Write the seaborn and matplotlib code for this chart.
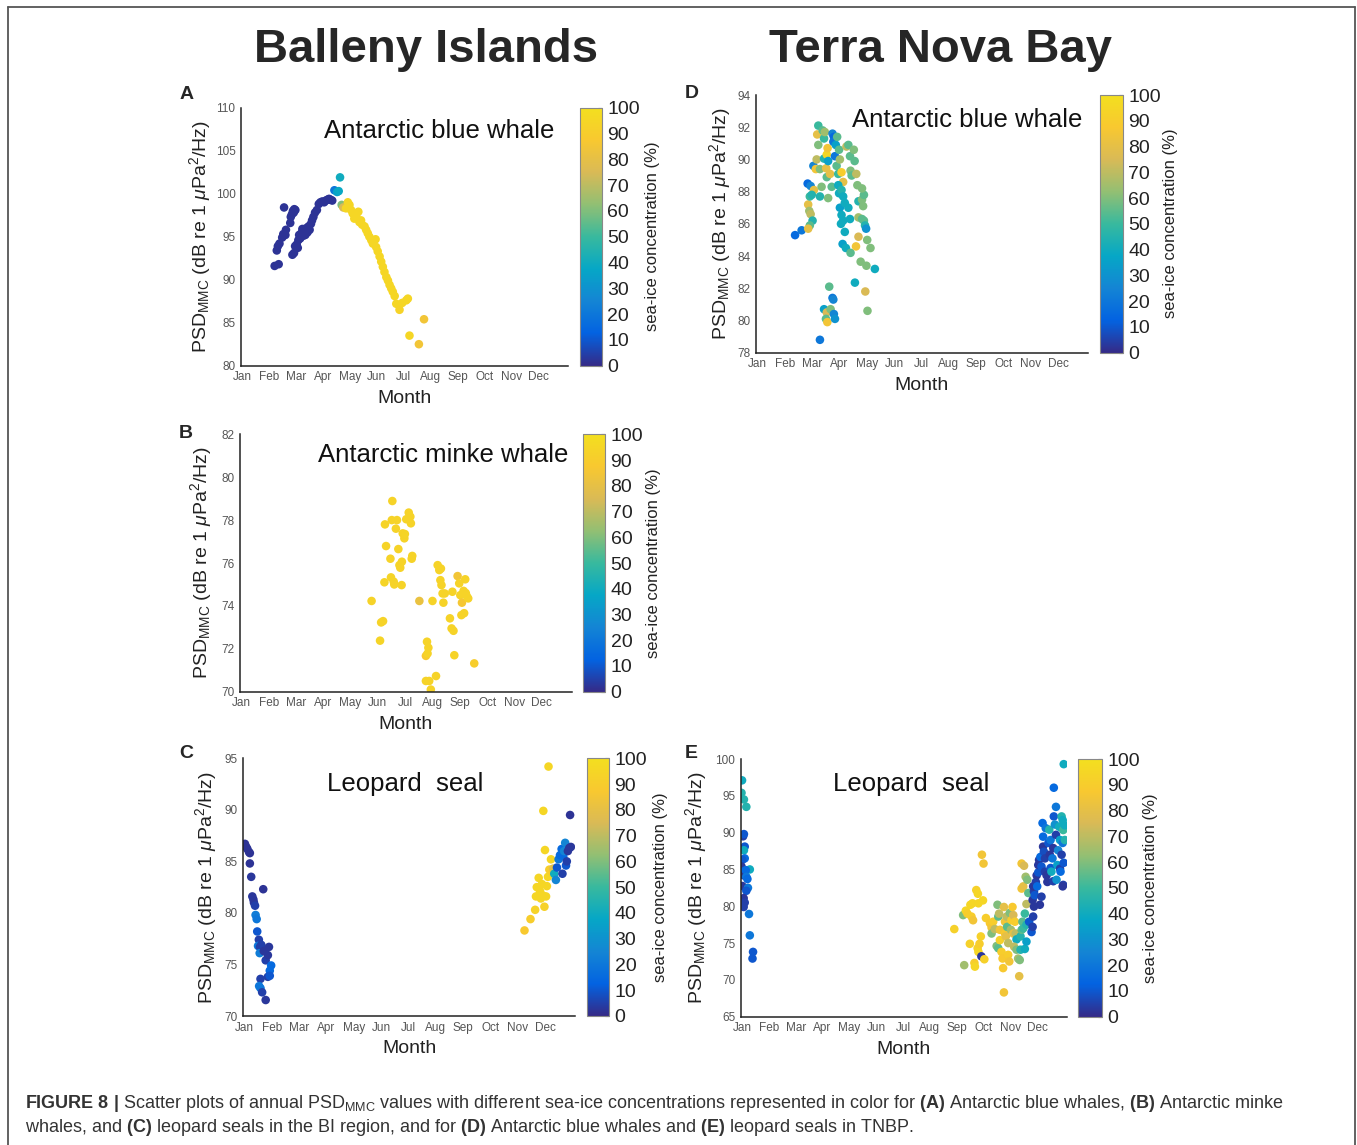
import matplotlib
matplotlib.use("Agg")
import matplotlib.pyplot as plt
import seaborn as sns
import pandas as pd
from matplotlib.colors import LinearSegmentedColormap, Normalize
from matplotlib.cm import ScalarMappable
from matplotlib.lines import Line2D

# ---- data (month as fractional month, Jan = 1) ----
month_names = ["Jan", "Feb", "Mar", "Apr", "May", "Jun",
               "Jul", "Aug", "Sep", "Oct", "Nov", "Dec"]

# A: Balleny Islands, Antarctic blue whale
a_month = [2.20, 2.35, 2.28, 2.32, 2.38, 2.48, 2.52, 2.60, 2.55, 2.62, 2.78, 2.80, 2.84,
           2.88, 2.93, 2.97, 2.91, 2.86, 2.92, 2.96, 3.02, 3.06, 3.08, 3.11, 3.15, 3.19,
           3.23, 3.26, 3.30, 3.34, 3.38, 3.42, 3.46, 3.50, 3.55, 3.59, 3.64, 3.70, 3.77,
           3.84, 3.90, 3.97, 4.04, 4.10, 4.16, 4.22, 4.28, 4.34,
           4.42, 4.52, 4.63, 4.58, 4.69, 4.75,
           4.85, 4.92, 4.98, 5.04, 5.10, 5.16, 5.23, 5.31, 5.35, 5.41, 5.45, 5.54, 5.60,
           5.66, 5.72, 5.79, 5.85, 5.95, 5.97, 6.03, 6.10, 6.16, 6.22, 6.28, 6.35, 6.41,
           6.47, 6.53, 6.59, 6.66, 6.72, 6.84, 6.94, 7.09, 7.15, 7.21, 7.56, 7.75]
a_psd = [91.6, 91.8, 93.4, 93.9, 94.2, 94.9, 95.3, 95.2, 98.4, 95.8, 96.6, 97.3, 97.6,
         98.0, 98.2, 98.1, 97.8, 92.9, 93.1, 93.9, 94.1, 93.7, 94.6, 95.2, 94.8, 95.4,
         95.9, 95.1, 95.6, 95.2, 96.0, 95.5, 96.2, 95.8, 96.5, 96.9, 97.3, 97.8, 98.1,
         98.8, 99.0, 99.1, 99.0, 99.2, 99.3, 99.4, 99.3, 99.2,
         100.4, 100.2, 101.9, 100.3, 98.7, 98.4,
         98.3, 99.0, 98.7, 98.1, 97.7, 97.1, 97.5, 97.9, 96.7, 96.9, 96.4, 96.2, 95.8,
         95.4, 95.0, 94.6, 94.2, 94.7, 93.8, 93.3, 92.7, 92.1, 91.5, 90.9, 90.3, 89.9,
         89.4, 89.0, 88.6, 88.1, 87.2, 86.5, 87.3, 87.6, 87.8, 83.5, 82.5, 85.4]
a_ice = [2] * 48 + [20, 35, 40, 38, 60, 75] + [95] * 31 + [93, 95, 95, 95, 95, 85, 85]

# B: Balleny Islands, Antarctic minke whale
b_month = [5.77, 6.08, 6.12, 6.19, 6.24, 6.26, 6.30, 6.46, 6.48, 6.53, 6.51, 6.58, 6.60,
           6.66, 6.70, 6.75, 6.79, 6.82, 6.87, 6.88, 6.91, 6.97, 6.99, 7.04, 7.13, 7.19,
           7.21, 7.24, 7.26, 7.52, 7.76, 7.80, 7.85, 7.82, 7.76, 7.88, 7.94, 8.00, 8.13,
           8.19, 8.25, 8.29, 8.31, 8.33, 8.37, 8.40, 8.45, 8.64, 8.70, 8.77, 8.80, 8.73,
           8.92, 8.98, 9.02, 9.06, 9.08, 9.14, 9.16, 9.20, 9.22, 9.26, 9.31, 9.53]
b_psd = [74.23, 72.38, 73.23, 73.29, 75.10, 77.80, 76.79, 76.20, 75.33, 78.89, 78.00,
         75.13, 75.00, 77.60, 78.00, 76.65, 75.90, 75.78, 74.97, 76.06, 77.38, 77.15,
         77.35, 78.04, 78.35, 78.16, 77.85, 76.20, 76.33, 74.23, 71.67, 72.33, 72.05,
         71.78, 70.50, 70.50, 70.10, 74.23, 70.73, 75.90, 75.67, 75.20, 75.74, 74.97,
         74.58, 74.15, 74.58, 73.42, 72.95, 72.84, 71.70, 74.66, 75.39, 75.05, 74.50,
         73.57, 74.15, 74.70, 73.66, 75.24, 74.60, 74.45, 74.35, 71.32]
b_ice = [93, 94, 93, 93, 94, 93, 93, 93, 94, 93, 93, 94, 93, 93, 93, 93, 94, 93, 93,
         93, 93, 93, 94, 93, 93, 93, 93, 93, 93, 82, 88, 93, 93, 93, 93, 93, 93, 93, 93,
         93, 93, 93, 93, 93, 93, 93, 93, 93, 93, 93, 93, 93, 85, 93, 93, 93, 86, 93, 93,
         93, 93, 93, 93, 90]

# C: Balleny Islands, leopard seal
c_month = [1.01, 1.06, 1.10, 1.16, 1.19, 1.19, 1.24, 1.28, 1.32, 1.34, 1.38, 1.40, 1.44,
           1.46, 1.52, 1.49, 1.56, 1.55, 1.61, 1.68, 1.70, 1.77, 1.85, 1.89, 1.97, 1.92,
           1.85, 1.92, 1.58, 1.53, 1.58, 1.64, 1.77,
           11.25, 11.47, 11.64, 11.67, 11.70, 11.77, 11.82, 11.85, 11.89, 11.92, 11.94,
           11.98, 12.00, 12.04, 12.07, 12.11, 12.13, 12.16, 12.22, 12.25, 12.30, 12.34,
           12.40, 12.44, 12.50, 12.55, 12.61, 12.64, 12.67, 12.70, 12.74, 12.77, 12.80,
           12.84, 12.89, 12.92, 12.95]
c_psd = [86.7, 86.4, 86.2, 85.9, 85.8, 84.8, 83.5, 81.6, 81.3, 81.0, 80.7, 79.8, 79.4,
         78.2, 77.4, 76.8, 76.7, 76.1, 76.9, 82.3, 76.3, 75.4, 75.9, 76.7, 74.9, 74.4,
         73.8, 73.9, 73.6, 72.9, 72.7, 72.3, 71.55,
         78.3, 79.4, 80.3, 81.6, 82.5, 83.4, 82.1, 81.4, 82.8, 81.7, 89.9, 80.6, 86.1,
         81.6, 82.6, 83.5, 94.2, 84.2, 85.2, 84.0, 84.3, 83.8, 83.2, 84.4, 85.2, 85.6,
         86.2, 83.8, 85.5, 86.0, 86.8, 84.6, 85.0, 86.0, 86.3, 89.5, 86.4]
c_ice = [2, 2, 2, 2, 2, 2, 3, 3, 3, 3, 5, 22, 20, 10, 5, 20, 5, 22, 5, 2, 3, 5, 3, 3,
         15, 15, 5, 10, 5, 20, 20, 5, 3,
         88, 90, 93, 95, 95, 95, 95, 95, 95, 95, 95, 92, 95, 95, 95, 95, 95, 90, 95, 90,
         80, 40, 25, 10, 20, 15, 15, 5, 15, 25, 25, 10, 5, 3, 3, 2, 3]

# D: Terra Nova Bay, Antarctic blue whale
d_month = [2.38, 2.62, 2.84, 2.95, 3.05, 3.07, 3.17, 3.19, 3.23, 3.23, 3.14, 2.86, 2.90,
           2.95, 3.02, 2.92, 2.86, 2.92, 2.99, 3.29, 3.29, 3.35, 3.39, 3.44, 3.47, 3.44,
           3.52, 3.54, 3.57, 3.59, 3.59, 3.54, 3.66, 3.72, 3.63, 3.44, 3.54, 3.51, 3.56,
           3.68, 3.75, 3.78, 3.80, 3.84, 3.29, 3.75, 3.80, 3.78, 3.84, 3.87, 3.92, 3.90,
           3.96, 3.99, 4.02, 4.08, 4.14, 3.96, 3.99, 4.08, 4.14, 4.02, 4.20, 4.08, 4.14,
           4.06, 4.20, 4.12, 4.24, 4.26, 4.33, 4.39, 4.41, 4.45, 4.33, 4.39, 4.41, 4.53,
           4.56, 4.62, 4.66, 4.70, 4.70, 4.61, 4.70, 4.57, 4.78, 4.83, 4.87, 4.83, 4.90,
           4.94, 4.98, 5.02, 4.99, 5.14, 5.30, 4.95, 5.03, 4.90, 4.83]
d_psd = [85.3, 85.6, 88.5, 88.35, 89.6, 88.1, 90.0, 91.55, 92.1, 90.9, 89.4, 87.2, 86.8,
         86.6, 86.2, 85.9, 85.7, 87.7, 87.8, 87.7, 89.4, 88.3, 91.8, 91.3, 91.7, 90.05,
         89.45, 90.3, 90.7, 89.9, 87.6, 88.9, 89.1, 88.3, 82.1, 80.7, 80.5, 80.1, 79.9,
         80.7, 81.4, 81.3, 80.4, 80.1, 78.8, 91.6, 91.4, 91.1, 90.2, 90.9, 91.4, 89.6,
         89.1, 90.6, 90.0, 89.2, 88.6, 88.4, 87.9, 88.1, 87.7, 87.0, 87.3, 86.55, 86.2,
         86.0, 85.5, 84.75, 84.5, 90.8, 90.9, 90.2, 89.3, 89.0, 87.0, 86.3, 84.2, 90.6,
         89.9, 89.1, 88.4, 87.4, 86.4, 84.6, 85.2, 82.35, 83.65, 87.5, 87.1, 86.3, 86.2,
         85.9, 85.7, 85.0, 83.4, 84.5, 83.2, 81.8, 80.6, 87.8, 88.2]
d_ice = [15, 20, 15, 25, 25, 80, 70, 80, 50, 60, 85, 80, 65, 70, 45, 55, 80, 50, 45, 45,
         60, 60, 55, 50, 65, 45, 80, 95, 85, 35, 60, 55, 80, 55, 55, 35, 75, 55, 85, 60,
         20, 25, 25, 30, 20, 25, 15, 20, 20, 35, 55, 55, 50, 55, 65, 90, 80, 40, 40, 45,
         40, 35, 40, 40, 40, 40, 40, 35, 40, 70, 55, 55, 60, 55, 40, 40, 55, 60, 55, 70,
         60, 45, 65, 85, 75, 40, 60, 60, 60, 55, 55, 45, 30, 60, 60, 60, 40, 75, 60, 55,
         60]

# E: Terra Nova Bay, leopard seal
e_month = [1.00, 0.98, 1.07, 1.16, 1.04, 1.07, 1.10, 1.07, 1.10, 1.01, 1.29, 0.98, 1.04,
           1.06, 1.14, 1.16, 1.20, 1.01, 1.22, 1.16, 1.06, 1.10, 1.06, 1.26, 1.29, 1.41,
           1.39,
           8.91, 9.24, 9.28, 9.34, 9.40, 9.49, 9.51, 9.55, 9.61, 9.59, 9.66, 9.68, 9.73,
           9.79, 9.81, 9.78, 9.81, 9.85, 9.90, 9.92, 9.94, 10.00, 9.98, 10.03, 10.09,
           10.24, 10.30, 10.36, 10.30, 10.42, 10.52, 10.55, 10.58, 10.49, 10.55, 10.61,
           10.61, 10.67, 10.71, 10.76, 10.80, 10.80, 10.83, 10.86, 10.88, 10.92, 10.92,
           10.96, 10.73, 10.76, 10.98, 11.04, 11.08, 11.11, 11.02, 11.11, 11.17, 11.20,
           11.23, 11.14, 11.23, 11.29, 11.35, 11.33, 11.38, 11.38, 11.42, 11.45, 11.48,
           11.54, 11.60, 11.42, 11.51, 11.42, 11.48, 11.57, 11.63, 11.67, 11.60, 11.54,
           11.60,
           11.70, 11.79, 11.83, 11.85, 11.88, 11.83, 11.88, 11.85, 11.91, 11.95, 11.98,
           12.00, 12.04, 12.04, 12.07, 12.16, 12.12, 12.10, 12.16, 12.20, 12.22, 12.22,
           12.25, 12.29, 12.29, 12.32, 12.35, 12.38, 12.42, 12.45, 12.47, 12.50, 12.50,
           12.53, 12.57, 12.60, 12.60, 12.62, 12.62, 12.66, 12.70, 12.70, 12.72, 12.75,
           12.78, 12.82, 12.85, 12.85, 12.87, 12.91, 12.91, 12.95, 12.95, 12.97, 12.97,
           12.99, 12.99, 13.03, 13.03, 12.95]
e_psd = [97.1, 95.4, 94.5, 93.5, 89.5, 89.8, 88.1, 87.6, 86.5, 86.3, 85.0, 85.4, 84.7,
         84.2, 84.9, 84.0, 83.7, 82.75, 82.5, 82.1, 81.1, 80.5, 79.9, 78.95, 76.05, 73.8,
         72.9,
         76.9, 78.8, 72.0, 79.4, 79.0, 74.9, 80.2, 78.6, 78.1, 80.4, 72.3, 71.8, 82.2,
         81.7, 80.4, 74.3, 73.8, 74.9, 75.9, 73.2, 87.0, 85.8, 80.8, 72.8, 78.4, 77.7,
         77.1, 77.9, 76.3, 76.9, 80.2, 78.6, 79.0, 74.6, 74.3, 76.8, 75.4, 73.8, 72.9,
         79.9, 77.9, 76.3, 75.9, 78.6, 77.2, 75.0, 73.4, 72.5, 71.6, 68.3, 79.1, 78.1,
         79.9, 78.8, 76.8, 76.3, 77.9, 76.3, 75.5, 74.5, 74.1, 72.9, 72.7, 70.5, 74.1,
         75.9, 76.8, 77.9, 77.0, 74.2, 75.2, 85.8, 85.5, 82.4, 82.7, 84.0, 83.6, 81.8,
         80.3, 79.0, 77.5,
         77.9, 76.5, 77.2, 78.6, 79.95, 80.85, 82.0, 82.7, 81.5, 83.3, 84.2, 82.7, 84.6,
         85.6, 86.3, 85.4, 86.7, 80.2, 81.3, 91.3, 88.1, 89.45, 87.4, 86.5, 84.7, 90.6,
         84.2, 83.3, 88.6, 90.4, 87.0, 89.0, 85.2, 84.7, 86.5, 87.9, 83.4, 96.1, 92.2,
         91.1, 89.7, 93.5, 83.6, 85.6, 87.6, 90.8, 89.0, 85.1, 84.7, 92.2, 87.0, 91.7,
         88.6, 90.35, 82.9, 85.9, 99.3, 89.0, 91.0, 82.7]
e_ice = [40, 45, 45, 45, 5, 10, 10, 40, 15, 10, 40, 3, 10, 3, 15, 20, 15, 3, 20, 10, 3,
         5, 5, 20, 20, 10, 10,
         92, 60, 65, 95, 90, 92, 95, 90, 85, 95, 90, 95, 92, 95, 95, 92, 95, 90, 92, 3,
         85, 85, 95, 92, 90, 88, 85, 90, 60, 70, 60, 55, 70, 60, 55, 85, 92, 90, 88, 80,
         85, 88, 80, 70, 55, 70, 90, 85, 88, 85, 60, 90, 88, 75, 65, 80, 90, 70, 40, 70,
         60, 65, 60, 80, 45, 45, 55, 55, 50, 40, 35, 85, 75, 85, 80, 65, 60, 55, 70, 50,
         45,
         10, 10, 5, 5, 3, 3, 5, 3, 10, 5, 3, 15, 10, 3, 3, 10, 15, 3, 5, 15, 3, 15, 8, 5,
         5, 20, 3, 3, 10, 45, 3, 20, 10, 40, 20, 3, 5, 15, 10, 30, 5, 20, 30, 35, 25, 40,
         35, 5, 15, 45, 5, 40, 20, 50, 5, 10, 40, 45, 40, 3]

# ---- style ----
W, H = 1357, 1145
sns.set_style("white")
plt.rcParams["font.family"] = ["Liberation Sans", "DejaVu Sans"]
plt.rcParams["mathtext.fontset"] = "custom"
plt.rcParams["mathtext.rm"] = "Liberation Sans"
plt.rcParams["mathtext.it"] = "Liberation Sans:italic"
plt.rcParams["mathtext.bf"] = "Liberation Sans:bold"

# parula-like map, top end toned to the golden yellow of the print
parula = LinearSegmentedColormap.from_list(
    "parula", ["#352a87", "#0363e1", "#1485d4", "#06a7c6", "#38b99e",
               "#92bf73", "#d9ba56", "#f8c830", "#f3df1f"])
norm = Normalize(0, 100)
tick_gray = "#555555"


def rect(x0, y0, x1, y1):
    return [x0 / W, 1 - y1 / H, (x1 - x0) / W, (y1 - y0) / H]


def ftext(x, y, s, **kw):
    fig.text(x / W, 1 - y / H, s, **kw)


def panel(box, cbox, month, psd, ice, ylim, yticks, ylab_x,
          title, title_xy, letter, letter_xy, clab_xy):
    ax = fig.add_axes(rect(*box))
    df = pd.DataFrame({"month": month, "psd": psd, "ice": ice})
    sns.scatterplot(data=df, x="month", y="psd", hue="ice", palette=parula,
                    hue_norm=(0, 100), s=38, linewidth=0, legend=False, ax=ax)
    ax.set_xlim(0.95, 13.1)
    ax.set_ylim(*ylim)
    ax.set_xticks(range(1, 13))
    ax.set_xticklabels(month_names)
    ax.set_yticks(yticks)
    for side in ["top", "right"]:
        ax.spines[side].set_visible(False)
    for side in ["left", "bottom"]:
        ax.spines[side].set_color("#222222")
        ax.spines[side].set_linewidth(1.1)
    ax.tick_params(direction="in", length=4, width=1, color="#222222",
                   labelsize=8.5, labelcolor=tick_gray, pad=4)
    ax.set_xlabel("Month", fontsize=14, color="#222222")
    ax.xaxis.set_label_coords(0.5, -0.094)
    ax.set_ylabel(r"PSD$_{\mathrm{MMC}}$ (dB re 1 $\mu$Pa$^{2}$/Hz)",
                  fontsize=14, color="#222222")
    ax.yaxis.set_label_coords(ylab_x, 0.5)

    cax = fig.add_axes(rect(*cbox))
    cb = fig.colorbar(ScalarMappable(norm=norm, cmap=parula), cax=cax)
    cb.set_ticks(range(0, 101, 10))
    cb.outline.set_edgecolor("#888888")
    cb.outline.set_linewidth(0.8)
    cax.tick_params(direction="in", length=3, width=0.8, color="#666666",
                    labelsize=14, labelcolor="#222222", pad=4)
    ftext(clab_xy[0], clab_xy[1], "sea-ice concentration (%)", fontsize=12,
          rotation=90, ha="center", va="center", color="#222222")

    ftext(title_xy[0], title_xy[1], title, fontsize=18.5, ha="left",
          va="baseline", color="#111111")
    ftext(letter_xy[0], letter_xy[1], letter, fontsize=14, weight="bold",
          ha="center", va="baseline")
    return ax


fig = plt.figure(figsize=(W / 100, H / 100), dpi=100)

panel((241, 107.7, 568, 365.7), (580, 107.7, 601.7, 365.7),
      a_month, a_psd, a_ice, (80, 110), range(80, 111, 5), -0.086,
      "Antarctic blue whale", (324, 138.3), "A", (186.5, 99), (652, 236))
panel((240, 434.3, 571.7, 691.7), (582.7, 434.3, 605, 691.7),
      b_month, b_psd, b_ice, (70, 82), range(70, 83, 2), -0.078,
      "Antarctic minke whale", (318.3, 461.7), "B", (186, 438.5), (653.5, 563))
panel((243.3, 758.3, 575, 1016), (586.7, 758.3, 609, 1016),
      c_month, c_psd, c_ice, (70, 95), range(70, 96, 5), -0.073,
      "Leopard  seal", (326.7, 790.7), "C", (186, 758), (661, 887))
panel((756, 95, 1088, 352.7), (1100, 95, 1122.7, 352.7),
      d_month, d_psd, d_ice, (78, 94), range(78, 95, 2), -0.069,
      "Antarctic blue whale", (851.7, 126.7), "D", (691.5, 98.5), (1170, 223))
panel((740.7, 759, 1066.7, 1016.7), (1078.3, 759, 1101.7, 1016.7),
      e_month, e_psd, e_ice, (65, 100), range(65, 101, 5), -0.097,
      "Leopard  seal", (833.3, 790.7), "E", (691.5, 758.5), (1150, 888))

# column headings
ftext(426.5, 61.7, "Balleny Islands", fontsize=34, weight="bold",
      ha="center", va="baseline")
ftext(940.5, 61.7, "Terra Nova Bay", fontsize=34, weight="bold",
      ha="center", va="baseline")

# open frame around the figure
frame_kw = dict(transform=fig.transFigure, color="#555555", linewidth=1.3)
fig.add_artist(Line2D([8 / W, 1355 / W], [1 - 6.5 / H, 1 - 6.5 / H], **frame_kw))
fig.add_artist(Line2D([8 / W, 8 / W], [0, 1 - 6.5 / H], **frame_kw))
fig.add_artist(Line2D([1355 / W, 1355 / W], [0, 1 - 6.5 / H], **frame_kw))

# caption
cap1 = (r"$\mathbf{FIGURE\ 8\ |}$ Scatter plots of annual PSD$_{\mathrm{MMC}}$ values "
        r"with different sea-ice concentrations represented in color for "
        r"$\mathbf{(A)}$ Antarctic blue whales, $\mathbf{(B)}$ Antarctic minke")
cap2 = (r"whales, and $\mathbf{(C)}$ leopard seals in the BI region, and for "
        r"$\mathbf{(D)}$ Antarctic blue whales and $\mathbf{(E)}$ leopard seals in TNBP.")
ftext(25, 1108, cap1, fontsize=13, ha="left", va="baseline", color="#333333")
ftext(25, 1132, cap2, fontsize=13, ha="left", va="baseline", color="#333333")

fig.savefig("out.png", dpi=100)
